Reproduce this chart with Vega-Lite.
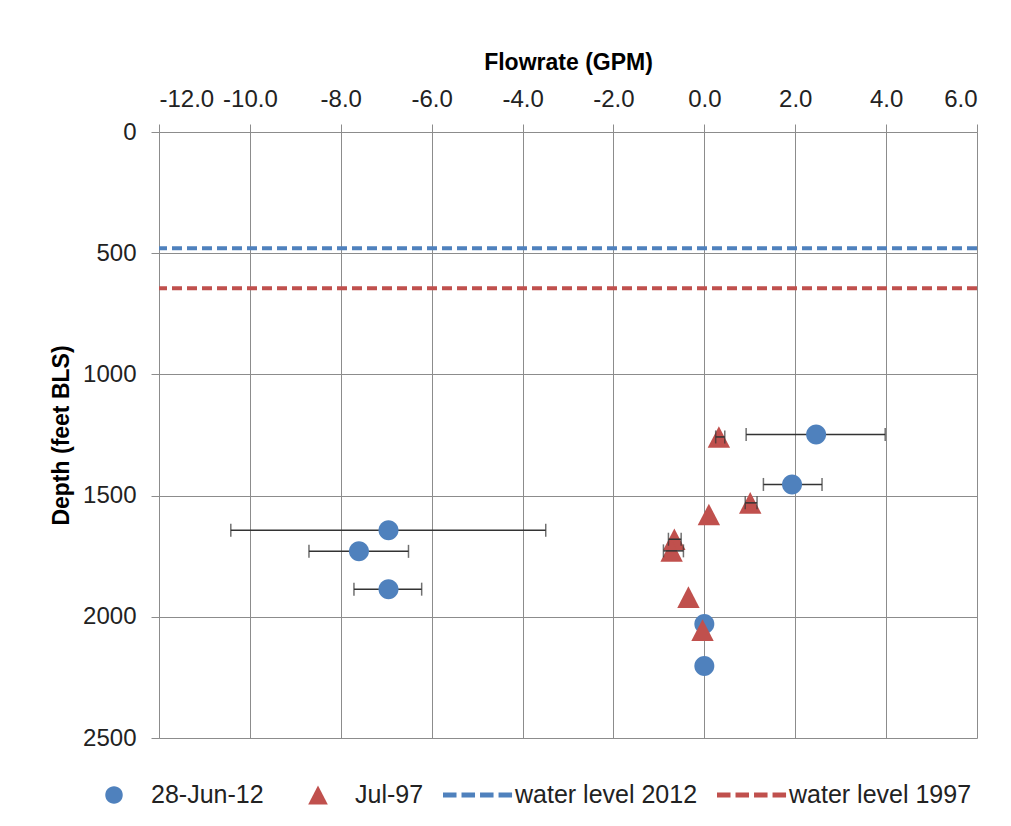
{
  "$schema": "https://vega.github.io/schema/vega-lite/v6.json",
  "width": 818,
  "height": 606,
  "autosize": {"type": "none"},
  "padding": {"left": 159, "top": 132, "right": 34, "bottom": 88},
  "background": "white",
  "config": {
    "font": "Liberation Sans",
    "view": {"stroke": null},
    "axis": {
      "gridColor": "#8c8c8c",
      "gridWidth": 1,
      "domainColor": "#8c8c8c",
      "domainWidth": 1,
      "tickColor": "#8c8c8c",
      "tickSize": 8,
      "labelColor": "#222222",
      "labelFontSize": 24,
      "labelOverlap": false,
      "titleColor": "#000000",
      "titleFontSize": 23,
      "titleFontWeight": "bold"
    }
  },
  "datasets": {
    "pts": [
      {"series": "28-Jun-12", "flow": 2.46, "depth": 1248, "lo": 0.92, "hi": 3.98},
      {"series": "28-Jun-12", "flow": 1.93, "depth": 1454, "lo": 1.30, "hi": 2.59},
      {"series": "28-Jun-12", "flow": -6.95, "depth": 1643, "lo": -10.42, "hi": -3.49},
      {"series": "28-Jun-12", "flow": -7.60, "depth": 1730, "lo": -8.70, "hi": -6.51},
      {"series": "28-Jun-12", "flow": -6.95, "depth": 1886, "lo": -7.71, "hi": -6.22},
      {"series": "28-Jun-12", "flow": 0.0, "depth": 2030, "lo": null, "hi": null},
      {"series": "28-Jun-12", "flow": 0.0, "depth": 2203, "lo": null, "hi": null},
      {"series": "Jul-97", "flow": 0.32, "depth": 1258, "lo": 0.25, "hi": 0.45},
      {"series": "Jul-97", "flow": 1.01, "depth": 1530, "lo": 0.90, "hi": 1.16},
      {"series": "Jul-97", "flow": 0.10, "depth": 1578, "lo": null, "hi": null},
      {"series": "Jul-97", "flow": -0.66, "depth": 1680, "lo": -0.79, "hi": -0.51},
      {"series": "Jul-97", "flow": -0.72, "depth": 1728, "lo": -0.90, "hi": -0.46},
      {"series": "Jul-97", "flow": -0.35, "depth": 1919, "lo": null, "hi": null},
      {"series": "Jul-97", "flow": -0.04, "depth": 2055, "lo": null, "hi": null}
    ],
    "levels": [
      {"level": "water level 2012", "depth": 480},
      {"level": "water level 1997", "depth": 645}
    ]
  },
  "encoding": {
    "y": {
      "field": "depth",
      "type": "quantitative",
      "scale": {"domain": [0, 2500], "reverse": true, "nice": false},
      "axis": {
        "title": "Depth (feet BLS)",
        "values": [0, 500, 1000, 1500, 2000, 2500],
        "format": "d",
        "labelPadding": 15,
        "titlePadding": 9
      }
    }
  },
  "layer": [
    {
      "data": {"name": "levels"},
      "mark": {"type": "rule", "strokeWidth": 4, "strokeDash": [10, 5]},
      "encoding": {
        "stroke": {
          "field": "level",
          "type": "nominal",
          "scale": {"domain": ["water level 2012", "water level 1997"], "range": ["#4f81bd", "#c0504d"]},
          "legend": null
        }
      }
    },
    {
      "data": {"name": "pts"},
      "transform": [{"filter": "datum.series === '28-Jun-12' && datum.lo != null"}],
      "mark": {"type": "rule", "color": "#333333", "strokeWidth": 1.5},
      "encoding": {
        "x": {"field": "lo", "type": "quantitative"},
        "x2": {"field": "hi"}
      }
    },
    {
      "data": {"name": "pts"},
      "transform": [{"filter": "datum.series === '28-Jun-12' && datum.lo != null"}],
      "mark": {"type": "tick", "orient": "vertical", "color": "#333333", "size": 13, "thickness": 1.5},
      "encoding": {"x": {"field": "lo", "type": "quantitative"}}
    },
    {
      "data": {"name": "pts"},
      "transform": [{"filter": "datum.series === '28-Jun-12' && datum.lo != null"}],
      "mark": {"type": "tick", "orient": "vertical", "color": "#333333", "size": 13, "thickness": 1.5},
      "encoding": {"x": {"field": "hi", "type": "quantitative"}}
    },
    {
      "data": {"name": "pts"},
      "mark": {"type": "point", "filled": true, "opacity": 1, "size": 6400},
      "encoding": {
        "x": {
          "field": "flow",
          "type": "quantitative",
          "scale": {"domain": [-12, 6], "nice": false, "zero": false},
          "axis": {
            "orient": "top",
            "title": "Flowrate (GPM)",
            "values": [-12, -10, -8, -6, -4, -2, 0, 2, 4, 6],
            "format": ".1f",
            "labelExpr": "replace(datum.label, '\u2212', '-')",
            "labelPadding": 13,
            "titlePadding": 13
          }
        },
        "color": {
          "field": "series",
          "type": "nominal",
          "scale": {
            "domain": ["28-Jun-12", "Jul-97", "water level 2012", "water level 1997"],
            "range": ["#4f81bd", "#c0504d", "#4f81bd", "#c0504d"]
          },
          "legend": {
            "title": null,
            "orient": "none",
            "legendX": -80,
            "legendY": 628,
            "direction": "horizontal",
            "symbolSize": 4900,
            "symbolStrokeWidth": 0,
            "labelFontSize": 25,
            "labelColor": "#222222",
            "labelLimit": 0,
            "labelOffset": 2,
            "columnPadding": 19
          }
        },
        "shape": {
          "field": "series",
          "type": "nominal",
          "scale": {
            "domain": ["28-Jun-12", "Jul-97", "water level 2012", "water level 1997"],
            "range": [
              "M-0.25,0A0.25,0.25,0,1,1,0.25,0A0.25,0.25,0,1,1,-0.25,0Z",
              "M0,-0.27L0.28,0.27L-0.28,0.27Z",
              "M-1,-0.07H-0.614V0.07H-1Z M-0.471,-0.07H-0.085V0.07H-0.471Z M0.058,-0.07H0.444V0.07H0.058Z M0.587,-0.07H0.973V0.07H0.587Z",
              "M-1,-0.07H-0.614V0.07H-1Z M-0.471,-0.07H-0.085V0.07H-0.471Z M0.058,-0.07H0.444V0.07H0.058Z M0.587,-0.07H0.973V0.07H0.587Z"
            ]
          }
        }
      }
    },
    {
      "data": {"name": "pts"},
      "transform": [{"filter": "datum.series === 'Jul-97' && datum.lo != null"}],
      "mark": {"type": "rule", "color": "#333333", "strokeWidth": 1.5},
      "encoding": {
        "x": {"field": "lo", "type": "quantitative"},
        "x2": {"field": "hi"}
      }
    },
    {
      "data": {"name": "pts"},
      "transform": [{"filter": "datum.series === 'Jul-97' && datum.lo != null"}],
      "mark": {"type": "tick", "orient": "vertical", "color": "#333333", "size": 13, "thickness": 1.5},
      "encoding": {"x": {"field": "lo", "type": "quantitative"}}
    },
    {
      "data": {"name": "pts"},
      "transform": [{"filter": "datum.series === 'Jul-97' && datum.lo != null"}],
      "mark": {"type": "tick", "orient": "vertical", "color": "#333333", "size": 13, "thickness": 1.5},
      "encoding": {"x": {"field": "hi", "type": "quantitative"}}
    }
  ]
}
